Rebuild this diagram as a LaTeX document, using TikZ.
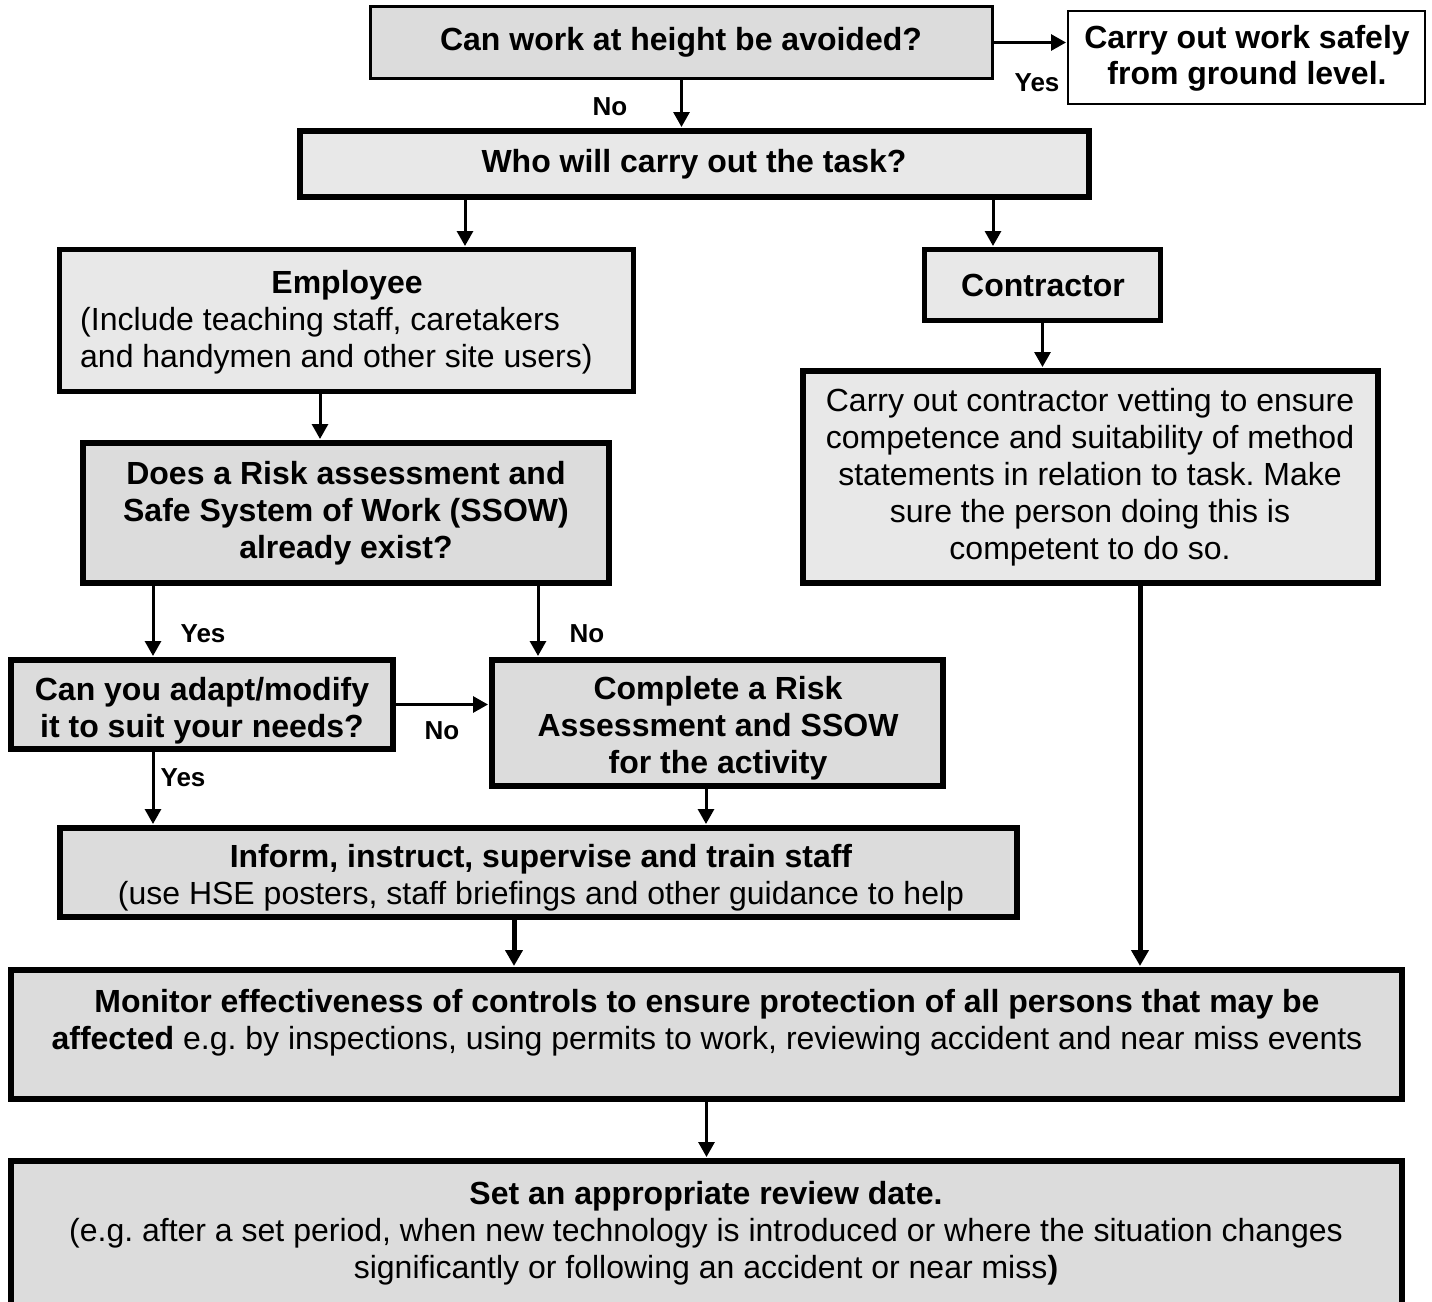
\documentclass[tikz,border=0pt]{standalone}
\usepackage{fontspec}
\setmainfont{Liberation Sans}
\usetikzlibrary{arrows.meta}
\definecolor{gA}{HTML}{DCDCDC}
\definecolor{gB}{HTML}{E8E8E8}
\frenchspacing
\begin{document}
\begin{tikzpicture}[x=1pt,y=-1pt,
  font=\fontsize{32}{37}\selectfont,
  box/.style={draw=black, rectangle, inner sep=0pt, line width=6pt, fill=gA},
  lbox/.style={box, fill=gB},
  arr/.style={line width=3pt, -{Triangle[length=15pt,width=16pt]}, shorten >=1pt},
  tarr/.style={line width=5pt, -{Triangle[length=16pt,width=17pt]}, shorten >=1pt},
  lab/.style={font=\fontsize{26}{30}\selectfont\bfseries, inner sep=0pt},
  txt/.style={align=center, inner sep=0pt}]
\clip (0,0) rectangle (1432,1301);
\fill[white] (0,0) rectangle (1432,1301);

% boxes
\node[box, line width=3pt, minimum width=622pt, minimum height=72pt] (A) at (681.5,42.5) {};
\node[box, fill=white, line width=2pt, minimum width=357pt, minimum height=93pt] (B) at (1246.5,57.5) {};
\node[lbox, minimum width=789pt, minimum height=66pt] (C) at (694.5,164) {};
\node[lbox, line width=5pt, minimum width=574pt, minimum height=142pt] (D) at (346.5,320.5) {};
\node[lbox, line width=5pt, minimum width=236pt, minimum height=71pt] (E) at (1042.5,285) {};
\node[box, minimum width=526pt, minimum height=140pt] (F) at (346,513) {};
\node[lbox, minimum width=575pt, minimum height=212pt] (G) at (1090.5,477) {};
\node[box, minimum width=382pt, minimum height=89pt] (H) at (202,704.5) {};
\node[box, minimum width=451pt, minimum height=126pt] (I) at (717.5,723) {};
\node[box, minimum width=957pt, minimum height=89pt] (J) at (538.5,872.5) {};
\node[box, minimum width=1391pt, minimum height=129pt] (K) at (706.5,1034.5) {};
\node[box, minimum width=1391pt, minimum height=156pt] (L) at (706.5,1239) {};

% texts
\node[txt, font=\fontsize{32}{37}\selectfont\bfseries] (tA) at (681,42) {Can work at height be avoided?};
\node[txt, font=\fontsize{32}{36}\selectfont\bfseries] (tB) at (1247,58) {Carry out work safely\\from ground level.};
\node[txt, font=\fontsize{32}{37}\selectfont\bfseries] (tC) at (694,164) {Who will carry out the task?};
\node[txt, font=\fontsize{32}{37}\selectfont\bfseries] (tD1) at (347,285) {Employee};
\node[txt, align=left, anchor=west] (tD2) at (80,341) {(Include teaching staff, caretakers\\and handymen and other site users)};
\node[txt, font=\fontsize{32}{37}\selectfont\bfseries] (tE) at (1043,285) {Contractor};
\node[txt, font=\fontsize{32}{37}\selectfont\bfseries] (tF) at (346,513) {Does a Risk assessment and\\Safe System of Work (SSOW)\\already exist?};
\node[txt] (tG) at (1090,477) {Carry out contractor vetting to ensure\\competence and suitability of method\\statements in relation to task. Make\\sure the person doing this is\\competent to do so.};
\node[txt, font=\fontsize{32}{37}\selectfont\bfseries] (tH) at (202,711) {Can you adapt/modify\\it to suit your needs?};
\node[txt, font=\fontsize{32}{37}\selectfont\bfseries] (tI) at (718,728) {Complete a Risk\\Assessment and SSOW\\for the activity};
\node[txt] (tJ) at (541,878) {\textbf{Inform, instruct, supervise and train staff}\\(use HSE posters, staff briefings and other guidance to help};
\node[txt] (tK) at (707,1023) {\textbf{Monitor effectiveness of controls to ensure protection of all persons that may be}\\\textbf{affected} e.g. by inspections, using permits to work, reviewing accident and near miss events};
\node[txt] (tL) at (706,1233) {\textbf{Set an appropriate review date.}\\(e.g. after a set period, when new technology is introduced or where the situation changes\\significantly or following an accident or near miss\textbf{)}};

% connector x positions
\coordinate (xCD) at (465,0);
\coordinate (xCE) at (993,0);
\coordinate (xDF) at (320,0);
\coordinate (xFH) at (153,0);
\coordinate (xFI) at (538,0);
\coordinate (xIJ) at (706,0);
\coordinate (xJK) at (514,0);
\coordinate (xGK) at (1140,0);

% connectors
\draw[arr] (A.east) -- (A.east -| B.west);
\draw[arr] (A.south) -- (A.south |- C.north);
\draw[arr] (C.south -| xCD) -- (D.north -| xCD);
\draw[arr] (C.south -| xCE) -- (E.north -| xCE);
\draw[arr] (D.south -| xDF) -- (F.north -| xDF);
\draw[arr] (E.south) -- (E.south |- G.north);
\draw[arr] (F.south -| xFH) -- (H.north -| xFH);
\draw[arr] (F.south -| xFI) -- (I.north -| xFI);
\draw[arr] (H.east) -- (H.east -| I.west);
\draw[arr] (H.south -| xFH) -- (J.north -| xFH);
\draw[arr] (I.south -| xIJ) -- (J.north -| xIJ);
\draw[tarr] (J.south -| xJK) -- (K.north -| xJK);
\draw[tarr] (G.south -| xGK) -- (K.north -| xGK);
\draw[arr] (K.south) -- (K.south |- L.north);

% labels
\node[lab] (yAB) at (1037,83) {Yes};
\node[lab] (nAC) at (610,107) {No};
\node[lab] (yFH) at (203,634) {Yes};
\node[lab] (nFI) at (587,634) {No};
\node[lab] (nHI) at (442,731) {No};
\node[lab] (yHJ) at (183,778) {Yes};
\end{tikzpicture}
\end{document}
